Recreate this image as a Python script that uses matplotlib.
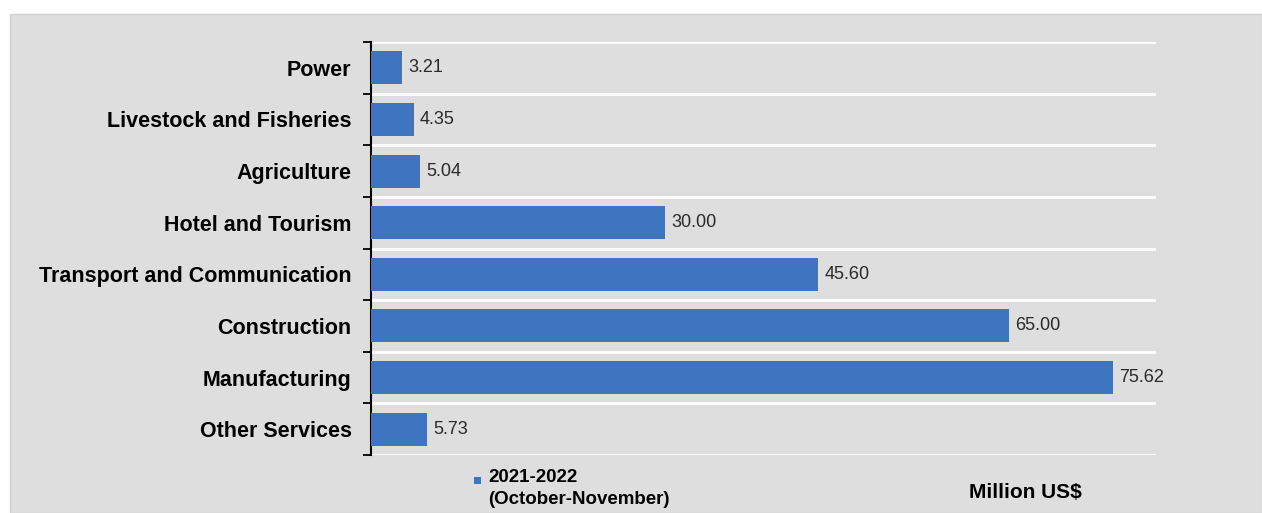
import numpy as np
import matplotlib.pyplot as plt
from matplotlib.patches import Rectangle

plt.rcParams['font.family'] = ['Liberation Sans', 'DejaVu Sans']

# ========== data ==========
sectors = ['Power', 'Livestock and Fisheries', 'Agriculture', 'Hotel and Tourism',
           'Transport and Communication', 'Construction', 'Manufacturing', 'Other Services']
values = [3.21, 4.35, 5.04, 30.00, 45.60, 65.00, 75.62, 5.73]
series_label = '2021-2022\n(October-November)'
unit_label = 'Million US$'

bar_color = '#3F74C0'

fig = plt.figure(figsize=(12.62, 5.13), dpi=100)
fig.patch.set_facecolor('white')
# gray panel behind the chart
fig.patches.append(Rectangle((10 / 1262, 0), 1 - 10 / 1262, 1 - 14 / 513,
                             transform=fig.transFigure, facecolor='#DEDEDE',
                             edgecolor='#D0D0D0', zorder=-10))

ax = fig.add_axes([371 / 1262, 1 - 455 / 513, (1156 - 371) / 1262, (455 - 42) / 513])
ax.set_zorder(1)
ax.set_facecolor('none')

n = len(sectors)
y = np.arange(n)
ax.barh(y, values, height=0.64, color=bar_color, zorder=3)
for yi, v in zip(y, values):
    ax.text(v + 0.6, yi, f'{v:.2f}', va='center', ha='left', fontsize=13, color='#2A2A2A')

ax.set_xlim(0, 80)
ax.set_ylim(n - 0.5, -0.5)

# white separators between categories
for b in np.arange(-0.5, n, 1.0):
    ax.axhline(b, color='white', linewidth=2, zorder=1)

ax.set_yticks(np.arange(-0.5, n, 1.0))
ax.set_yticklabels([])
ax.set_yticks(y, minor=True)
ax.set_yticklabels(sectors, minor=True, fontsize=15.5, fontweight='bold')
ax.tick_params(axis='y', which='major', length=6, width=1.3, direction='out', color='black')
ax.tick_params(axis='y', which='minor', length=0, pad=14)
ax.set_xticks([])

for s in ['top', 'right', 'bottom']:
    ax.spines[s].set_visible(False)
ax.spines['left'].set_linewidth(1.5)
ax.spines['left'].set_color('black')

# legend and unit note
fig.patches.append(Rectangle((474 / 1262, 1 - 484 / 513), 7 / 1262, 7 / 513,
                             transform=fig.transFigure, facecolor=bar_color, zorder=2))
fig.text(488 / 1262, 1 - 469 / 513, series_label, ha='left', va='top',
         fontsize=13.5, fontweight='bold', linespacing=1.35)
fig.text(1025 / 1262, 1 - 492 / 513, unit_label, ha='center', va='center',
         fontsize=15, fontweight='bold')

plt.savefig('out.png', dpi=100)
